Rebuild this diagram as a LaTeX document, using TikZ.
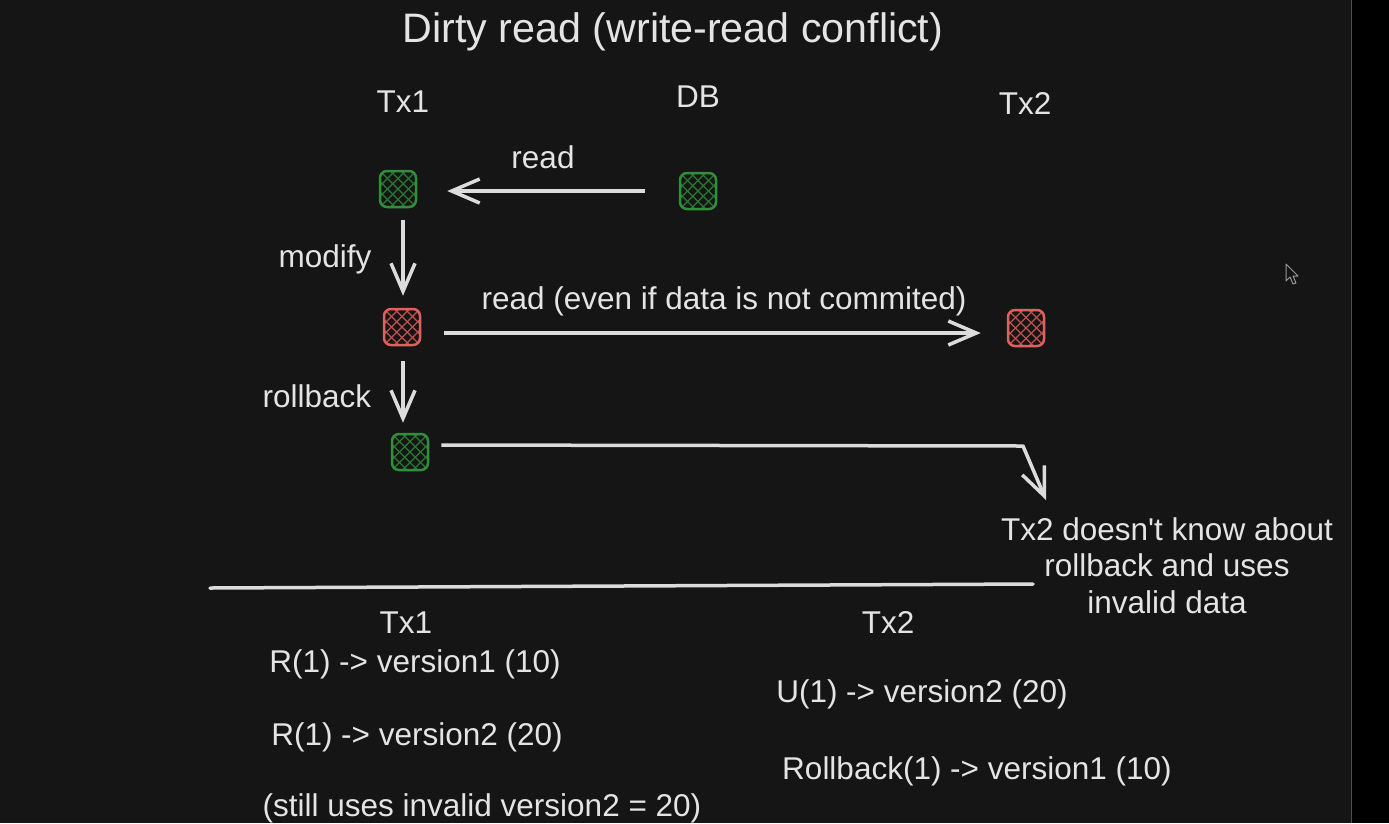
\documentclass[tikz,border=0pt]{standalone}
\usepackage{fontspec}
\setmainfont{Liberation Sans}[Ligatures=TeXOff]
\usetikzlibrary{arrows.meta}
\definecolor{bgc}{HTML}{151515}
\definecolor{fgc}{HTML}{E4E4E4}
\definecolor{arrc}{HTML}{DCDCDC}
\definecolor{cgreen}{HTML}{2F8F3A}
\definecolor{cred}{HTML}{E0605E}
\tikzset{
  txt/.style={text=fgc, font=\fontsize{31.5}{36.5}\selectfont, inner sep=0pt, anchor=base},
  titletxt/.style={text=fgc, font=\fontsize{41.2}{48}\selectfont, inner sep=0pt, anchor=base},
  cell/.style={draw=#1, line width=2.5pt, rounded corners=7pt, minimum size=36pt, inner sep=0pt,
    path picture={\foreach \k in {-5,...,5}{
      \draw[#1!85!black, line width=1.1pt] ([xshift=\k*10.5pt]path picture bounding box.center) +(-30pt,-30pt) -- +(30pt,30pt);
      \draw[#1!85!black, line width=1.1pt] ([xshift=\k*10.5pt]path picture bounding box.center) +(-30pt,30pt) -- +(30pt,-30pt);
    }}},
  arr/.style={draw=arrc, line width=3.5pt, -{Straight Barb[length=28pt,width=24pt,line width=3.5pt]}},
  plainline/.style={draw=arrc, line width=3.5pt, line cap=round},
}
\begin{document}
\begin{tikzpicture}[x=1pt,y=-1pt]
\useasboundingbox (0,0) rectangle (1389,823);
\fill[bgc] (0,0) rectangle (1389,823);
\fill[black] (1352,0) rectangle (1389,823);
\draw[color=black!70!white, line width=1pt] (1351.5,0) -- (1351.5,823);

% title and headers
\node[titletxt] (title) at (673,42) {Dirty read (write-read conflict)};
\node[txt] (htx1) at (403,112) {Tx1};
\node[txt] (hdb) at (698,107) {DB};
\node[txt] (htx2) at (1025,114) {Tx2};

% cells
\node[cell=cgreen] (g1) at (398,189) {};
\node[cell=cgreen] (db) at (698,191) {};
\node[cell=cred] (r1) at (402,327) {};
\node[cell=cred] (r2) at (1026,328) {};
\node[cell=cgreen] (g2) at (410,452) {};

% connectors
\draw[arr, shorten <=34pt, shorten >=30pt] (db.west) -- (db.west -| g1.east);
\node[txt] (lread) at (543,168) {read};

\draw[arr, shorten <=12pt, shorten >=12pt] ([xshift=5pt]g1.south) -- ([xshift=5pt]g1.south |- r1.north);
\node[txt] (lmod) at (325,267) {modify};

\draw[arr, shorten <=23pt, shorten >=26pt] ([yshift=-6pt]r1.east) -- ([yshift=-6pt]r1.east -| r2.west);
\node[txt] (ldirty) at (724,309) {read (even if data is not commited)};

\draw[arr, shorten <=15pt, shorten >=10pt] ([xshift=1pt]r1.south) -- ([xshift=1pt]r1.south |- g2.north);
\node[txt] (lroll) at (317,407) {rollback};

\coordinate (bend) at (1023,446);
\coordinate (tip) at (1046,500);
\draw[arr, shorten <=12pt, line join=round] ([yshift=7pt]g2.east) -- (bend) -- (tip);

\node[text=fgc, font=\fontsize{31.5}{36.5}\selectfont, inner sep=0pt, anchor=north, align=center] (note) at (1167,517) {Tx2 doesn't know about\\rollback and uses\\invalid data};

% separator
\coordinate (sepL) at (210,588);
\coordinate (sepR) at (1033,584);
\draw[plainline] (sepL) -- (sepR);

% bottom lists
\node[txt] (btx1) at (406,633) {Tx1};
\node[txt] (b1) at (415,672) {R(1) -> version1 (10)};
\node[txt] (b2) at (417,745) {R(1) -> version2 (20)};
\node[txt] (b3) at (482,816) {(still uses invalid version2 = 20)};
\node[txt] (btx2) at (888,633) {Tx2};
\node[txt] (c1) at (922,702) {U(1) -> version2 (20)};
\node[txt] (c2) at (977,779) {Rollback(1) -> version1 (10)};

% mouse cursor
\draw[color=black!40!white, line width=1pt, fill=bgc, line join=round] (1286,264) -- (1286,281) -- (1290,277) -- (1293,284) -- (1296,283) -- (1293,276) -- (1298,276) -- cycle;
\end{tikzpicture}
\end{document}
